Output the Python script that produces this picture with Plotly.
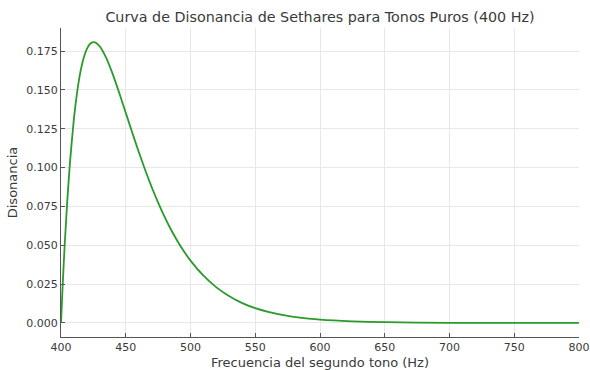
import plotly.graph_objects as go

# Second-tone frequency (Hz) and dissonance values
freq = [400, 401, 402, 403, 405, 407, 410, 412.5, 415, 417.5, 420, 422.5, 425, 427.5,
        430, 435, 440, 445, 450, 455, 460, 465, 470, 475, 480, 485, 490, 495, 500,
        510, 520, 530, 540, 550, 560, 575, 580, 600, 625, 650, 700, 750, 800]
dis = [0.0, 0.0189, 0.0364, 0.0524, 0.0805, 0.1040, 0.1317, 0.1488, 0.1616, 0.1706,
       0.1764, 0.1797, 0.1808, 0.1801, 0.1779, 0.1704, 0.1600, 0.1480, 0.1353, 0.1226,
       0.1102, 0.0985, 0.0875, 0.0775, 0.0683, 0.0600, 0.0526, 0.0460, 0.0401,
       0.0304, 0.0229, 0.0172, 0.0128, 0.0095, 0.0071, 0.0045, 0.0039, 0.0021,
       0.0010, 0.0005, 0.0001, 0.00002, 0.0]

x_ticks = [400, 450, 500, 550, 600, 650, 700, 750, 800]
y_ticks = [0.0, 0.025, 0.05, 0.075, 0.1, 0.125, 0.15, 0.175]
y_tick_text = ["0.000", "0.025", "0.050", "0.075", "0.100", "0.125", "0.150", "0.175"]

FONT = "DejaVu Sans"
TXT = "#3a3a3a"

fig = go.Figure()
fig.add_trace(go.Scatter(x=freq, y=dis, mode="lines",
                         line=dict(color="#2a9a2a", width=1.8, shape="spline", smoothing=0.6),
                         showlegend=False))

fig.update_layout(
    width=590, height=370,
    margin=dict(l=61, r=11, t=28, b=33),
    paper_bgcolor="white", plot_bgcolor="white",
    font=dict(family=FONT, color=TXT, size=11),
    title=dict(text="Curva de Disonancia de Sethares para Tonos Puros (400 Hz)",
               x=0.5, xref="paper", xanchor="center", y=1 - 17 / 370, yref="container",
               yanchor="middle",
               font=dict(family=FONT, size=14.3, color=TXT)),
)
fig.update_xaxes(
    range=[400, 800], tickvals=x_ticks, ticktext=[str(v) for v in x_ticks],
    showgrid=True, gridcolor="#e8e8e8", gridwidth=1,
    showline=True, linecolor="#555555", linewidth=1.2,
    ticks="inside", ticklen=4, tickcolor="#555555",
    zeroline=False, tickfont=dict(size=11, color=TXT), automargin=False,
    title=dict(text="Frecuencia del segundo tono (Hz)", standoff=4,
               font=dict(size=13, color=TXT)),
)
fig.update_yaxes(
    range=[-0.00904, 0.18986], tickvals=y_ticks, ticktext=y_tick_text,
    showgrid=True, gridcolor="#e8e8e8", gridwidth=1,
    showline=True, linecolor="#555555", linewidth=1.2,
    ticks="inside", ticklen=4, tickcolor="#555555",
    zeroline=False, tickfont=dict(size=11, color=TXT), automargin=False,
    title=dict(text="Disonancia", standoff=5, font=dict(size=13, color=TXT)),
)

fig.write_html("out.html")
